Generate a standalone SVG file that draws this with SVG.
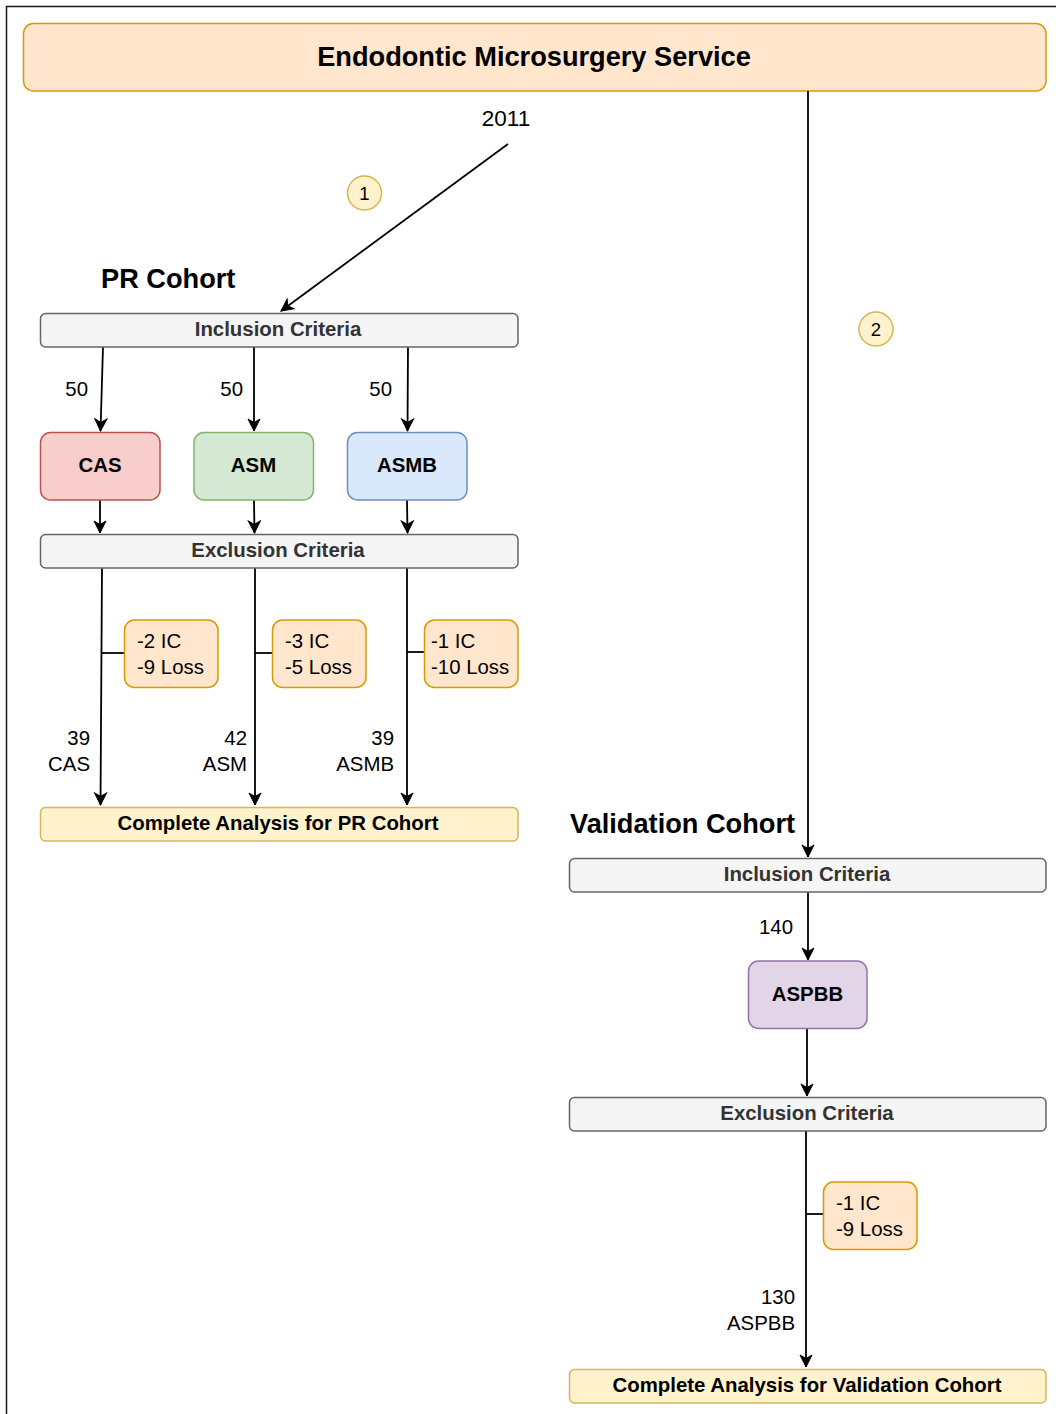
<svg xmlns="http://www.w3.org/2000/svg" width="1056" height="1414" viewBox="0 0 1056 1414">
<style>
text{font-family:"Liberation Sans",Arial,Helvetica,sans-serif;}
.t{font-size:20.4px;fill:#000;}
.b{font-weight:bold;}
.gray{fill:#f5f5f5;stroke:#666666;stroke-width:1.5;}
.grayt{font-size:20.4px;font-weight:bold;fill:#333333;text-anchor:middle;}
.yel{fill:#fff2cc;stroke:#d6b656;stroke-width:1.5;}
.org{fill:#ffe6cc;stroke:#d79b00;stroke-width:1.5;}
.ln{stroke:#000;stroke-width:1.8;fill:none;}
.arr{marker-end:url(#ah);}
.big{font-size:27.2px;font-weight:bold;fill:#000;}
.mid{text-anchor:middle;}
.end{text-anchor:end;}
</style>
<defs>
<marker id="ah" markerUnits="userSpaceOnUse" markerWidth="16" markerHeight="16" viewBox="-1 -8 16 16" refX="12" refY="0" orient="auto">
<path d="M0,-6 L12,0 L0,6 L3.5,0 Z" fill="#000" stroke="#000" stroke-width="1"/>
</marker>
</defs>
<rect x="0" y="0" width="1056" height="1414" fill="#fff"/>
<path d="M6.5,1414 V6.5 H1056" fill="none" stroke="#1a1a1a" stroke-width="1.5"/>

<g id="header">
<rect x="23.5" y="23.5" width="1022.5" height="67.5" rx="10" class="org"/>
<text x="534" y="66" class="big mid">Endodontic Microsurgery Service</text>
</g>

<g id="connectors">
<line x1="508" y1="144" x2="281" y2="311" class="ln arr"/>
<line x1="103" y1="347" x2="100.5" y2="431" class="ln arr"/>
<line x1="254" y1="347" x2="254" y2="431" class="ln arr"/>
<line x1="408" y1="347" x2="407.5" y2="431" class="ln arr"/>
<line x1="100" y1="500" x2="100" y2="533" class="ln arr"/>
<line x1="254" y1="500" x2="254.5" y2="533" class="ln arr"/>
<line x1="407" y1="500" x2="407.5" y2="533" class="ln arr"/>
<line x1="102" y1="568" x2="100.5" y2="805" class="ln arr"/>
<line x1="255" y1="568" x2="255" y2="805" class="ln arr"/>
<line x1="407" y1="568" x2="407" y2="805" class="ln arr"/>
<line x1="101.5" y1="653" x2="124" y2="653" class="ln"/>
<line x1="255" y1="653" x2="272" y2="653" class="ln"/>
<line x1="407" y1="652" x2="424" y2="652" class="ln"/>
<line x1="808" y1="91" x2="808" y2="857" class="ln arr"/>
<line x1="808" y1="892" x2="808" y2="960" class="ln arr"/>
<line x1="807" y1="1028" x2="807" y2="1096" class="ln arr"/>
<line x1="806" y1="1131" x2="806" y2="1367" class="ln arr"/>
<line x1="806" y1="1214" x2="823" y2="1214" class="ln"/>
</g>

<g id="label-2011"><text x="506" y="126" class="mid" style="font-size:22.5px">2011</text></g>
<g id="step1"><circle cx="364.5" cy="193" r="17" class="yel"/><text x="364.5" y="199.5" class="mid" style="font-size:18.5px">1</text></g>
<g id="step2"><circle cx="876" cy="329" r="17" class="yel"/><text x="876" y="335.5" class="mid" style="font-size:18.5px">2</text></g>

<g id="pr-title"><text x="101" y="288" class="big">PR Cohort</text></g>
<g id="pr-inclusion">
<rect x="40.5" y="313.5" width="477.5" height="33.5" rx="5" class="gray"/>
<text x="278" y="336" class="grayt">Inclusion Criteria</text>
</g>
<g id="labels-50">
<text x="88" y="396" class="t end">50</text>
<text x="243" y="396" class="t end">50</text>
<text x="392" y="396" class="t end">50</text>
</g>
<g id="cas"><rect x="40.5" y="432.5" width="119.5" height="67.5" rx="10" fill="#f8cecc" stroke="#b85450" stroke-width="1.5"/><text x="100" y="472" class="t b mid">CAS</text></g>
<g id="asm"><rect x="194" y="432.5" width="119.5" height="67.5" rx="10" fill="#d5e8d4" stroke="#82b366" stroke-width="1.5"/><text x="253.5" y="472" class="t b mid">ASM</text></g>
<g id="asmb"><rect x="347.5" y="432.5" width="119.5" height="67.5" rx="10" fill="#dae8fc" stroke="#6c8ebf" stroke-width="1.5"/><text x="407" y="472" class="t b mid">ASMB</text></g>
<g id="pr-exclusion">
<rect x="40.5" y="534.5" width="477.5" height="33.5" rx="5" class="gray"/>
<text x="278" y="557" class="grayt">Exclusion Criteria</text>
</g>
<g id="ex-cas"><rect x="124.5" y="620" width="93.5" height="67.5" rx="10" class="org"/><text x="137" y="648" class="t">-2 IC</text><text x="137" y="674" class="t">-9 Loss</text></g>
<g id="ex-asm"><rect x="272.5" y="620" width="93.5" height="67.5" rx="10" class="org"/><text x="285" y="648" class="t">-3 IC</text><text x="285" y="674" class="t">-5 Loss</text></g>
<g id="ex-asmb"><rect x="424.5" y="620" width="93.5" height="67.5" rx="10" class="org"/><text x="431" y="648" class="t">-1 IC</text><text x="431" y="674" class="t">-10 Loss</text></g>
<g id="counts-pr">
<text x="90" y="745" class="t end">39</text><text x="90" y="771" class="t end">CAS</text>
<text x="247" y="745" class="t end">42</text><text x="247" y="771" class="t end">ASM</text>
<text x="394" y="745" class="t end">39</text><text x="394" y="771" class="t end">ASMB</text>
</g>
<g id="pr-complete">
<rect x="40.5" y="807.5" width="477.5" height="33.5" rx="5" class="yel"/>
<text x="278" y="830" class="t b mid">Complete Analysis for PR Cohort</text>
</g>

<g id="val-title"><text x="570" y="833" class="big">Validation Cohort</text></g>
<g id="val-inclusion">
<rect x="569.5" y="858.5" width="476.5" height="33.5" rx="5" class="gray"/>
<text x="807" y="881" class="grayt">Inclusion Criteria</text>
</g>
<g id="label-140"><text x="793" y="934" class="t end">140</text></g>
<g id="aspbb"><rect x="748.5" y="961" width="118.5" height="67.5" rx="10" fill="#e1d5e7" stroke="#9673a6" stroke-width="1.5"/><text x="807.5" y="1001" class="t b mid">ASPBB</text></g>
<g id="val-exclusion">
<rect x="569.5" y="1097.5" width="476.5" height="33.5" rx="5" class="gray"/>
<text x="807" y="1120" class="grayt">Exclusion Criteria</text>
</g>
<g id="ex-aspbb"><rect x="823.5" y="1182" width="93.5" height="67.5" rx="10" class="org"/><text x="836" y="1210" class="t">-1 IC</text><text x="836" y="1236" class="t">-9 Loss</text></g>
<g id="counts-val"><text x="795" y="1304" class="t end">130</text><text x="795" y="1330" class="t end">ASPBB</text></g>
<g id="val-complete">
<rect x="569.5" y="1369.5" width="476.5" height="33.5" rx="5" class="yel"/>
<text x="807" y="1392" class="t b mid">Complete Analysis for Validation Cohort</text>
</g>
</svg>
